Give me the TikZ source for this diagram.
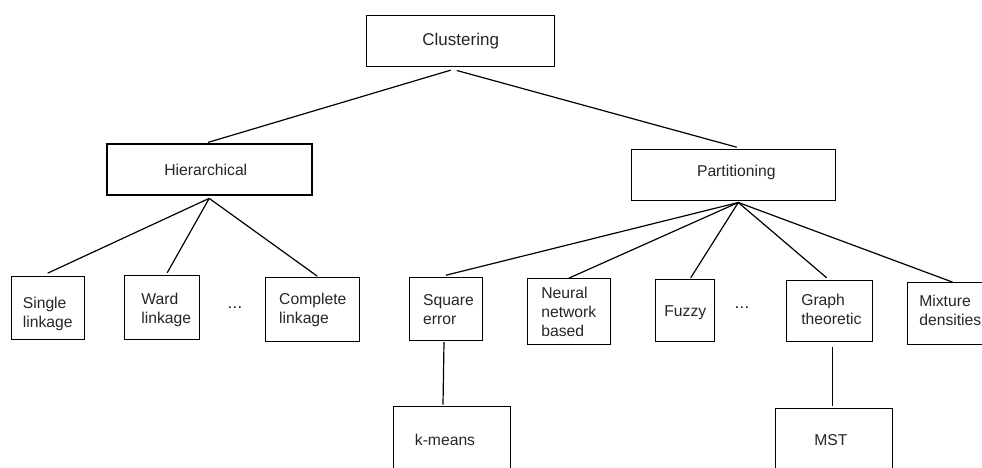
\documentclass[tikz,border=0pt]{standalone}
\usepackage{fontspec}
\setmainfont{Liberation Sans}
\usetikzlibrary{calc}
\newcommand\dgfont{\fontsize{15.7}{19}\selectfont}
\newcommand\dgbig{\fontsize{17}{20}\selectfont}
\newcommand\padx[1]{\rule{#1}{0pt}}
\tikzset{
  box/.style={draw=black, line width=1pt, inner sep=0pt, font=\dgfont, text=black!85},
  ml/.style={align=left},
  base/.style={text height=24pt+#1pt, text depth=24pt-#1pt},
  basem/.style={align=left, text height=30pt+#1pt, text depth=30pt-#1pt},
  thickbox/.style={box, line width=2pt},
  conn/.style={draw=black, line width=1.2pt},
  dots/.style={font=\dgfont, inner sep=0pt, anchor=base}
}
\begin{document}
\begin{tikzpicture}[x=1pt,y=-1pt]
\useasboundingbox (0,0) rectangle (982,467);
\fill[white] (0,0) rectangle (982,467);
\clip (0,0) rectangle (982,467);
% top
\node[box, font=\dgbig, base=4.4, minimum width=188, minimum height=50.7] (clu) at (460.7,41.3) {Clustering};
\node[thickbox, base=6, minimum width=205, minimum height=51.3] (hie) at (209.2,169.7) {Hierarchical\padx{6.8pt}};
\node[box, base=2.2, minimum width=204, minimum height=51] (par) at (733.7,174.5) {\padx{5.2pt}Partitioning};
% hierarchical children
\node[box, basem=19, minimum width=73.3, minimum height=63.3] (sin) at (47.7,308.3) {Single\\linkage};
\node[box, basem=15.8, minimum width=75, minimum height=63.6] (war) at (162.2,307.5) {\padx{8pt}Ward\\\padx{8pt}linkage};
\node[box, basem=13.8, minimum width=94.3, minimum height=64.4] (com) at (312.8,309.5) {Complete\\linkage};
\node[dots] (d1) at (235,308.8) {…};
% partitioning children
\node[box, basem=14.8, minimum width=72.6, minimum height=63] (squ) at (446,309.2) {\padx{5pt}Square\\\padx{5pt}error};
\node[box, basem=25.2, minimum width=83, minimum height=65.6] (neu) at (568.8,311.5) {Neural\\network\\based};
\node[box, base=5.5, minimum width=59.3, minimum height=62.4] (fuz) at (685.3,310.5) {Fuzzy};
\node[dots] (d2) at (742,308.8) {…};
\node[box, basem=13.1, minimum width=85.7, minimum height=61] (gra) at (829.2,311.2) {\padx{4.4pt}Graph\\\padx{4.4pt}theoretic};
\node[box, basem=11.9, minimum width=86, minimum height=62.3] (mix) at (950.3,313.8) {Mixture\\densities};
% leaves
\node[box, base=7, minimum width=117.4, minimum height=62.6] (kme) at (452,438) {k-means\padx{14pt}};
\node[box, base=5.5, minimum width=117, minimum height=62.4] (mst) at (834.2,439.5) {MST\padx{6.6pt}};
% connectors
\draw[conn] ($(clu.south)+(-10,3)$) -- ($(hie.north)+(-1,-0.7)$);
\draw[conn] ($(clu.south)+(-4,3.3)$) -- ($(par.north)+(3,-1.3)$);
\draw[conn] ($(hie.south)+(0,2)$) -- ($(sin.north)+(0,-3)$);
\draw[conn] ($(hie.south)+(0,2)$) -- ($(war.north)+(5,-2.4)$);
\draw[conn] ($(hie.south)+(0,2)$) -- ($(com.north)+(4.5,-0.6)$);
\draw[conn] ($(par.south)+(4.6,2)$) -- ($(squ.north)+(0,-2)$);
\draw[conn] ($(par.south)+(4.6,2)$) -- ($(neu.north)+(0,0)$);
\draw[conn] ($(par.south)+(4.6,2)$) -- ($(fuz.north)+(5.4,-1)$);
\draw[conn] ($(par.south)+(4.6,2)$) -- ($(gra.north)+(-2.5,-2.4)$);
\draw[conn] ($(par.south)+(4.6,2)$) -- ($(mix.north)+(2.4,0)$);
\draw[conn] ($(squ.south)+(-2,1)$) -- ($(kme.north)+(-9,-1.7)$);
\draw[conn] ($(gra.south)+(3.5,4.3)$) -- ($(mst.north)+(-1.5,-2.3)$);
\end{tikzpicture}
\end{document}
